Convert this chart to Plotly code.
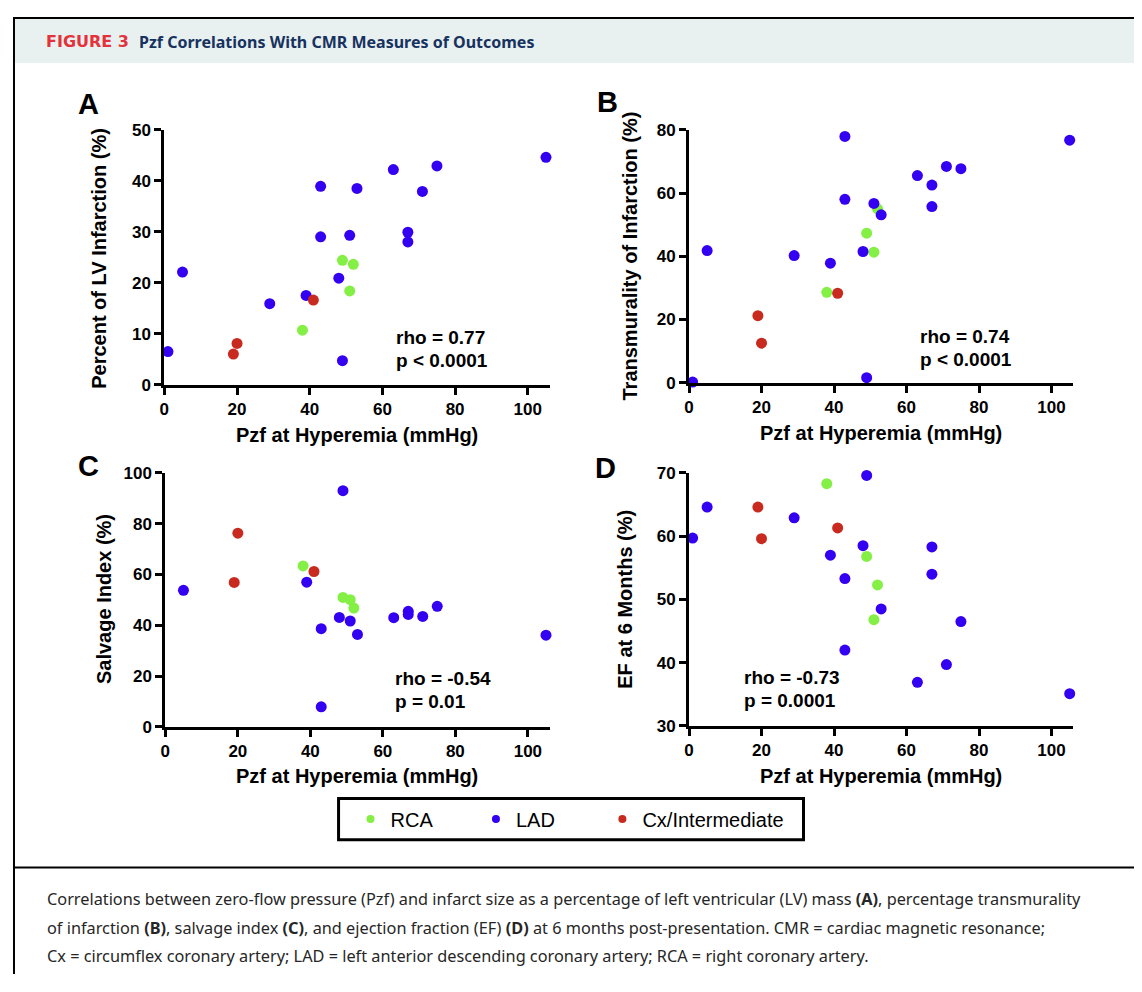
import plotly.graph_objects as go

# The page body keeps an 8px default margin, so the figure is sized to fill the
# 1142x992 window exactly with that margin, and positions are given in window pixels.
PAGE_W, PAGE_H = 1142, 992
OFF = 8
W, H = PAGE_W - OFF, PAGE_H - 2 * OFF

# ---------------- data ----------------
groups = ["RCA", "LAD", "Cx/Intermediate"]
group_colors = {"RCA": "#84ef45", "LAD": "#3300f2", "Cx/Intermediate": "#c92a1f"}

# Panel A: Percent of LV infarction
a_rca_x = [38, 49, 51, 52]
a_rca_y = [10.7, 24.4, 18.4, 23.6]
a_lad_x = [1, 5, 29, 39, 43, 43, 48, 49, 51, 53, 63, 67, 67, 71, 75, 105]
a_lad_y = [6.5, 22.1, 15.9, 17.5, 38.9, 29.0, 20.9, 4.7, 29.3, 38.5, 42.2, 29.9, 28.0, 37.9, 42.9, 44.6]
a_cx_x = [19, 20, 41]
a_cx_y = [6.0, 8.1, 16.6]

# Panel B: Transmurality of infarction
b_rca_x = [38, 49, 51, 52]
b_rca_y = [28.6, 47.3, 41.3, 55.0]
b_lad_x = [1, 5, 29, 39, 43, 43, 48, 49, 51, 53, 63, 67, 67, 71, 75, 105]
b_lad_y = [0.2, 41.8, 40.2, 37.8, 77.9, 58.0, 41.5, 1.6, 56.7, 53.1, 65.5, 62.5, 55.7, 68.4, 67.7, 76.7]
b_cx_x = [19, 20, 41]
b_cx_y = [21.2, 12.5, 28.3]

# Panel C: Salvage index
c_rca_x = [38, 49, 51, 52]
c_rca_y = [63.4, 51.0, 50.1, 46.8]
c_lad_x = [5, 39, 43, 43, 48, 49, 51, 53, 63, 67, 67, 71, 75, 105]
c_lad_y = [53.8, 57.0, 38.7, 7.9, 43.1, 93.0, 41.7, 36.4, 43.0, 45.5, 44.3, 43.5, 47.5, 36.1]
c_cx_x = [19, 20, 41]
c_cx_y = [56.9, 76.3, 61.2]

# Panel D: EF at 6 months
d_rca_x = [38, 49, 51, 52]
d_rca_y = [68.3, 56.8, 46.8, 52.3]
d_lad_x = [1, 5, 29, 39, 43, 43, 48, 49, 53, 63, 67, 67, 71, 75, 105]
d_lad_y = [59.7, 64.6, 62.9, 57.0, 53.3, 42.0, 58.5, 69.6, 48.5, 36.9, 58.3, 54.0, 39.7, 46.5, 35.1]
d_cx_x = [19, 20, 41]
d_cx_y = [64.6, 59.6, 61.3]

x_ticks = [0, 20, 40, 60, 80, 100]
a_ticks = [0, 10, 20, 30, 40, 50]
b_ticks = [0, 20, 40, 60, 80]
c_ticks = [0, 20, 40, 60, 80, 100]
d_ticks = [30, 40, 50, 60, 70]

x_title = "Pzf at Hyperemia (mmHg)"
y_titles = ["Percent of LV Infarction (%)", "Transmurality of Infarction (%)",
            "Salvage Index (%)", "EF at 6 Months (%)"]
stats = [("rho = 0.77", "p < 0.0001"), ("rho = 0.74", "p < 0.0001"),
         ("rho = -0.54", "p = 0.01"), ("rho = -0.73", "p = 0.0001")]
letters = ["A", "B", "C", "D"]

caption_lines = [
    "Correlations between zero-flow pressure (Pzf) and infarct size as a percentage of left ventricular (LV) mass <b>(A)</b>, percentage transmurality",
    "of infarction <b>(B)</b>, salvage index <b>(C)</b>, and ejection fraction (EF) <b>(D)</b> at 6 months post-presentation. CMR = cardiac magnetic resonance;",
    "Cx = circumflex coronary artery; LAD = left anterior descending coronary artery; RCA = right coronary artery.",
]

# ---------------- helpers (window pixels -> paper fractions) ----------------
def fx(px):
    return (px - OFF) / W

def fy(py):
    return 1 - (py - OFF) / H

panels = [
    dict(data=[(a_rca_x, a_rca_y), (a_lad_x, a_lad_y), (a_cx_x, a_cx_y)],
         xdom=(160, 547), ydom=(383, 123), yr=[0, 50], yt=a_ticks),
    dict(data=[(b_rca_x, b_rca_y), (b_lad_x, b_lad_y), (b_cx_x, b_cx_y)],
         xdom=(687, 1073), ydom=(381, 123), yr=[0, 80], yt=b_ticks),
    dict(data=[(c_rca_x, c_rca_y), (c_lad_x, c_lad_y), (c_cx_x, c_cx_y)],
         xdom=(161, 547), ydom=(732, 473), yr=[0, 100], yt=c_ticks),
    dict(data=[(d_rca_x, d_rca_y), (d_lad_x, d_lad_y), (d_cx_x, d_cx_y)],
         xdom=(687, 1073), ydom=(731, 473), yr=[30, 70], yt=d_ticks),
]

fig = go.Figure()
layout = {}
tickfont = dict(family="Liberation Sans, Arial, sans-serif", size=17, color="black", weight="bold")
axis_common = dict(showline=True, linewidth=3, linecolor="black", ticks="outside",
                   ticklen=7, tickwidth=3, tickcolor="black", showgrid=False,
                   zeroline=False, tickfont=tickfont, fixedrange=True)

for i, p in enumerate(panels):
    n = "" if i == 0 else str(i + 1)
    xa, ya = "x" + n, "y" + n
    for g, (xs, ys) in zip(groups, p["data"]):
        fig.add_trace(go.Scatter(x=xs, y=ys, mode="markers", xaxis=xa, yaxis=ya,
                                 marker=dict(size=11, color=group_colors[g]),
                                 showlegend=False, cliponaxis=False, name=g))
    layout["xaxis" + n] = dict(axis_common, domain=[fx(p["xdom"][0]), fx(p["xdom"][1])],
                               range=[0, 106], tickvals=x_ticks, anchor=ya)
    layout["yaxis" + n] = dict(axis_common, domain=[fy(p["ydom"][0]), fy(p["ydom"][1])],
                               range=p["yr"], tickvals=p["yt"], anchor=xa)

# legend-only traces, each in its own legend so they can be placed precisely
legend_names = ["legend", "legend2", "legend3"]
legend_dot_x = [365, 491, 618]
for g, lg in zip(groups, legend_names):
    fig.add_trace(go.Scatter(x=[None], y=[None], mode="markers", name=g, legend=lg,
                             marker=dict(size=8, color=group_colors[g]), showlegend=True))

legend_font = dict(family="Liberation Sans, Arial, sans-serif", size=20, color="black")
for lg, dx in zip(legend_names, legend_dot_x):
    layout[lg] = dict(orientation="h", x=fx(dx - 18), y=fy(826), xanchor="left", yanchor="middle",
                      bgcolor="rgba(0,0,0,0)", borderwidth=0, font=legend_font)

ann = []
bold20 = dict(family="Liberation Sans, Arial, sans-serif", size=20, color="black", weight="bold")
# axis titles
xt_pos = [(354, 434), (880, 432), (354, 782), (880, 782)]
yt_pos = [(95, 254), (628, 252), (100, 602), (623, 602)]
for i in range(4):
    ann.append(dict(text=x_title, x=fx(xt_pos[i][0]), y=fy(xt_pos[i][1]), xref="paper", yref="paper",
                    xanchor="center", yanchor="middle", showarrow=False, font=bold20))
    ann.append(dict(text=y_titles[i], x=fx(yt_pos[i][0]), y=fy(yt_pos[i][1]), xref="paper", yref="paper",
                    xanchor="center", yanchor="middle", showarrow=False, font=bold20, textangle=-90))

# stats
stat_pos = [(391, 335), (917, 334), (390, 683), (740, 682)]
statfont = dict(family="Liberation Sans, Arial, sans-serif", size=19, color="black", weight="bold")
for i in range(4):
    sx, sy = stat_pos[i]
    ann.append(dict(text=stats[i][0], x=fx(sx), y=fy(sy), xref="paper", yref="paper",
                    xanchor="left", yanchor="middle", showarrow=False, font=statfont))
    ann.append(dict(text=stats[i][1], x=fx(sx), y=fy(sy + 23), xref="paper", yref="paper",
                    xanchor="left", yanchor="middle", showarrow=False, font=statfont))

# panel letters
letter_pos = [(84, 97), (605, 95), (84, 466), (603, 468)]
for i in range(4):
    ann.append(dict(text=letters[i], x=fx(letter_pos[i][0]), y=fy(letter_pos[i][1]), xref="paper", yref="paper",
                    xanchor="center", yanchor="middle", showarrow=False,
                    font=dict(family="Liberation Sans, Arial, sans-serif", size=29, color="black", weight="bold")))

# header
ann.append(dict(text="FIGURE 3", x=fx(39), y=fy(33), xref="paper", yref="paper", xanchor="left",
                yanchor="middle", showarrow=False,
                font=dict(family="DejaVu Sans", size=16, color="#e3323b", weight="bold")))
ann.append(dict(text="Pzf Correlations With CMR Measures of Outcomes", x=fx(133), y=fy(33),
                xref="paper", yref="paper", xanchor="left", yanchor="middle", showarrow=False,
                font=dict(family="Noto Sans", size=16, color="#17325f", weight="bold")))

# caption
cap_y = [908, 937, 966]
for line, cy in zip(caption_lines, cap_y):
    ann.append(dict(text=line, x=fx(40), y=fy(cy), xref="paper", yref="paper", xanchor="left",
                    yanchor="middle", showarrow=False,
                    font=dict(family="Noto Sans", size=16.3, color="#262626")))

shapes = [
    # header band
    dict(type="rect", xref="paper", yref="paper", x0=fx(9), x1=fx(1138), y0=fy(55), y1=fy(9),
         fillcolor="#e8f1f0", line=dict(width=0), layer="below"),
    # frame lines
    dict(type="line", xref="paper", yref="paper", x0=fx(8), x1=fx(1139.5), y0=fy(9), y1=fy(9),
         line=dict(color="black", width=2)),
    dict(type="line", xref="paper", yref="paper", x0=fx(9), x1=fx(9), y0=fy(8), y1=0,
         line=dict(color="black", width=2)),
    dict(type="line", xref="paper", yref="paper", x0=fx(1138.5), x1=fx(1138.5), y0=fy(8), y1=0,
         line=dict(color="black", width=2)),
    dict(type="line", xref="paper", yref="paper", x0=fx(8), x1=fx(1139.5), y0=fy(875.5), y1=fy(875.5),
         line=dict(color="black", width=2)),
    # legend box
    dict(type="rect", xref="paper", yref="paper", x0=fx(335), x1=fx(802), y0=fy(847), y1=fy(805),
         line=dict(color="black", width=3), fillcolor="rgba(0,0,0,0)"),
]

fig.update_layout(
    width=W, height=H, margin=dict(l=0, r=0, t=0, b=0),
    paper_bgcolor="white", plot_bgcolor="white",
    annotations=ann, shapes=shapes,
    **layout,
)

fig.write_html("out.html", config={"displayModeBar": False})
